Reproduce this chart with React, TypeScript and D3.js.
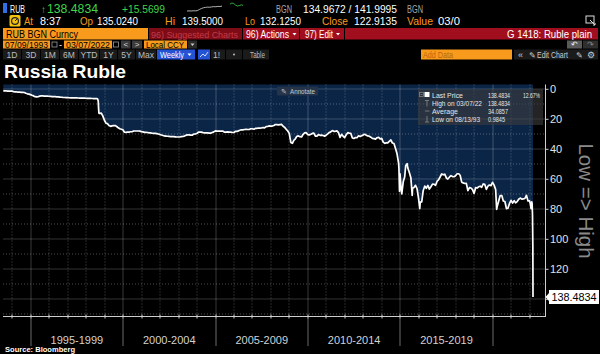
import React, { useEffect } from "react";
import * as d3 from "d3";

// ---------- DATA (USD/RUB, redenominated) ----------
const obsDates: string[] = [
  "1993-07-09","1993-07-30","1993-08-13","1993-08-31","1993-09","1993-10","1993-11","1993-12",
  "1994-01","1994-02","1994-03","1994-04","1994-05","1994-06","1994-07","1994-08","1994-09","1994-10","1994-11","1994-12",
  "1995-01","1995-02","1995-03","1995-04","1995-05","1995-06","1995-07","1995-08","1995-09","1995-10","1995-11","1995-12",
  "1996-01","1996-02","1996-03","1996-04","1996-05","1996-06","1996-07","1996-08","1996-09","1996-10","1996-11","1996-12",
  "1997-01","1997-02","1997-03","1997-04","1997-05","1997-06","1997-07","1997-08","1997-09","1997-10","1997-11","1997-12",
  "1998-01","1998-02","1998-03","1998-04","1998-05","1998-06","1998-07","1998-08-14","1998-08-21","1998-08-28","1998-09-04","1998-09-11","1998-09-18","1998-09-25","1998-10","1998-11","1998-12",
  "1999-01","1999-02","1999-03","1999-04","1999-05","1999-06","1999-07","1999-08","1999-09","1999-10","1999-11","1999-12",
  "2000-01","2000-02","2000-03","2000-04","2000-05","2000-06","2000-07","2000-08","2000-09","2000-10","2000-11","2000-12",
  "2001-01","2001-02","2001-03","2001-04","2001-05","2001-06","2001-07","2001-08","2001-09","2001-10","2001-11","2001-12",
  "2002-01","2002-02","2002-03","2002-04","2002-05","2002-06","2002-07","2002-08","2002-09","2002-10","2002-11","2002-12",
  "2003-01","2003-02","2003-03","2003-04","2003-05","2003-06","2003-07","2003-08","2003-09","2003-10","2003-11","2003-12",
  "2004-01","2004-02","2004-03","2004-04","2004-05","2004-06","2004-07","2004-08","2004-09","2004-10","2004-11","2004-12",
  "2005-01","2005-02","2005-03","2005-04","2005-05","2005-06","2005-07","2005-08","2005-09","2005-10","2005-11","2005-12",
  "2006-01","2006-02","2006-03","2006-04","2006-05","2006-06","2006-07","2006-08","2006-09","2006-10","2006-11","2006-12",
  "2007-01","2007-02","2007-03","2007-04","2007-05","2007-06","2007-07","2007-08","2007-09","2007-10","2007-11","2007-12",
  "2008-01","2008-02","2008-03","2008-04","2008-05","2008-06","2008-07","2008-08","2008-09","2008-10","2008-11","2008-12",
  "2009-01","2009-02","2009-03","2009-04","2009-05","2009-06","2009-07","2009-08","2009-09","2009-10","2009-11","2009-12",
  "2010-01","2010-02","2010-03","2010-04","2010-05","2010-06","2010-07","2010-08","2010-09","2010-10","2010-11","2010-12",
  "2011-01","2011-02","2011-03","2011-04","2011-05","2011-06","2011-07","2011-08","2011-09","2011-10","2011-11","2011-12",
  "2012-01","2012-02","2012-03","2012-04","2012-05","2012-06","2012-07","2012-08","2012-09","2012-10","2012-11","2012-12",
  "2013-01","2013-02","2013-03","2013-04","2013-05","2013-06","2013-07","2013-08","2013-09","2013-10","2013-11","2013-12",
  "2014-01","2014-02","2014-03","2014-04","2014-05","2014-06","2014-07","2014-08","2014-09","2014-10","2014-11","2014-12-05","2014-12-16","2014-12-26",
  "2015-01-15","2015-01-30","2015-02","2015-03","2015-04-17","2015-05-15","2015-05-29","2015-06","2015-07","2015-08-24","2015-08-31","2015-09","2015-10","2015-11","2015-12",
  "2016-01-21","2016-01-29","2016-02","2016-03","2016-04","2016-05","2016-06","2016-07","2016-08","2016-09","2016-10","2016-11","2016-12",
  "2017-01","2017-02","2017-03","2017-04","2017-05","2017-06","2017-07","2017-08","2017-09","2017-10","2017-11","2017-12",
  "2018-01","2018-02","2018-03","2018-04","2018-05","2018-06","2018-07","2018-08","2018-09","2018-10","2018-11","2018-12",
  "2019-01","2019-02","2019-03","2019-04","2019-05","2019-06","2019-07","2019-08","2019-09","2019-10","2019-11","2019-12",
  "2020-01","2020-02","2020-03-18","2020-03-31","2020-04","2020-05","2020-06","2020-07","2020-08","2020-09","2020-10","2020-11","2020-12",
  "2021-01","2021-02","2021-03","2021-04","2021-05","2021-06","2021-07","2021-08","2021-09","2021-10","2021-11","2021-12",
  "2022-01-14","2022-01-28","2022-02-11","2022-02-18","2022-02-25","2022-03-04","2022-03-07",
];

const rubPerUsd: number[] = [
  1.03,0.99,0.9845,0.99,1.17,1.18,1.20,1.25,
  1.54,1.66,1.75,1.82,1.88,1.99,2.05,2.15,2.60,3.00,3.23,3.55,
  4.00,4.41,4.90,5.10,4.95,4.54,4.41,4.42,4.51,4.51,4.58,4.64,
  4.73,4.82,4.87,4.93,5.01,5.11,5.19,5.30,5.40,5.47,5.51,5.56,
  5.63,5.67,5.72,5.76,5.78,5.78,5.80,5.82,5.85,5.88,5.93,5.96,
  6.03,6.08,6.11,6.13,6.16,6.20,6.24,6.29,7.0,7.86,12.8,16.0,15.9,16.1,15.9,17.9,20.65,
  22.6,22.9,24.2,24.7,24.4,24.2,24.2,24.8,25.7,26.3,26.6,27.0,
  28.6,28.7,28.5,28.5,28.3,28.3,27.8,27.8,27.8,27.8,27.9,28.2,
  28.4,28.7,28.7,28.8,29.0,29.1,29.3,29.4,29.4,29.6,29.8,30.1,
  30.5,30.8,31.1,31.2,31.3,31.4,31.5,31.6,31.6,31.7,31.8,31.8,
  31.8,31.5,31.4,31.2,30.7,30.3,30.4,30.6,30.6,29.9,29.8,29.5,
  28.5,28.5,28.5,28.9,29.0,29.0,29.1,29.2,29.2,28.8,28.4,27.7,
  27.9,27.8,27.9,27.8,27.9,28.6,28.6,28.4,28.5,28.6,28.8,28.8,
  28.1,28.1,27.7,27.3,27.0,27.0,26.8,26.7,26.8,26.8,26.3,26.3,
  26.6,26.1,26.0,25.8,25.9,25.8,25.5,25.7,24.9,24.8,24.4,24.5,
  24.5,24.1,23.5,23.6,23.7,23.5,23.4,24.6,25.4,26.6,27.8,29.4,
  35.4,36.0,34.0,33.0,31.3,31.1,31.6,31.8,30.0,29.0,28.9,30.2,
  30.4,29.9,29.4,29.2,31.2,31.2,30.2,30.7,30.6,30.8,31.3,30.5,
  29.7,28.8,28.4,27.5,28.0,28.0,27.7,28.9,32.1,30.0,31.3,32.2,
  30.3,28.9,29.3,29.4,32.5,32.8,32.2,32.3,31.0,31.5,31.0,30.4,
  30.0,30.6,31.1,31.3,31.9,32.7,32.9,33.2,32.3,32.0,33.1,32.7,
  35.2,36.0,35.7,35.7,34.7,33.8,35.8,36.1,39.4,43.0,49.3,53.0,68.0,56.3,
  65.5,69.7,61.5,58.5,51.0,49.6,52.5,55.5,58.9,70.7,66.0,65.5,64.0,66.3,72.9,
  79.5,75.2,75.0,67.6,64.5,66.0,64.1,66.5,65.0,63.2,63.3,64.0,61.3,
  60.2,58.3,56.4,57.0,56.6,59.1,59.8,58.6,57.6,58.2,58.3,57.6,
  56.3,56.3,57.3,61.9,62.4,62.8,62.7,67.5,65.6,65.8,66.9,69.4,
  65.6,65.8,65.0,64.6,65.3,63.1,63.4,66.7,64.6,63.8,64.2,62.0,
  63.9,66.9,80.0,78.0,74.5,70.8,70.8,74.5,74.8,79.5,79.3,76.1,74.0,
  75.9,74.2,75.7,74.9,73.3,72.5,73.2,73.0,72.8,70.7,74.4,74.3,
  76.5,79.5,75.0,76.5,83.6,105.0,138.4834,
];

const yTicks: number[] = [0, 20, 40, 60, 80, 100, 120, 140];
const yTickLabels: number[] = [0, 20, 40, 60, 80, 100, 120];
const yGridValues: number[] = [0, 10, 20, 30, 40, 50, 60, 70, 80, 90, 100, 110, 120, 130, 140, 150];
const periodLabels: string[] = ["1995-1999", "2000-2004", "2005-2009", "2010-2014", "2015-2019"];
const periodBounds: number[] = [1995, 2000, 2005, 2010, 2015, 2020];
const lastPriceLabel = "138.4834";
const legendLabels: string[] = ["Last Price", "High on 03/07/22", "Average", "Low on 08/13/93"];
const legendValues: string[] = ["138.4834", "138.4834", "34.0857", "0.9845"];
const legendPct = "12.67%";
const sparkIntraday: number[] = [3.0, 3.1, 3.0, 3.2, 3.1, 3.3, 4.2, 5.0, 5.6, 5.9, 6.1, 6.0, 6.3, 6.5, 6.4, 6.7, 6.6, 6.9];
const sparkGreen: number[] = [2.0, 3.0, 2.6, 1.2, 0.4, 0.8, 1.4, 1.0];

const FONT = "'Liberation Sans', Arial, Helvetica, sans-serif";
const ORANGE = "#f89a1c";
const RED = "#a10f1f";
const GREEN = "#3fd54b";
const NAVY = "#0b2547";

type TP = { x: number; y: number; t: string; s?: number; f?: string; w?: number; b?: boolean; a?: "start" | "middle" | "end" };
const T = ({ x, y, t, s = 11, f = "#fff", w, b, a = "start" }: TP) => (
  <text
    x={x}
    y={y}
    fontSize={s}
    fill={f}
    fontFamily={FONT}
    fontWeight={b ? "bold" : "normal"}
    textAnchor={a}
    {...(w ? { textLength: w, lengthAdjust: "spacingAndGlyphs" } : {})}
  >
    {t}
  </text>
);

const Tri = ({ cx, cy, c = "#fff" }: { cx: number; cy: number; c?: string }) => (
  <path d={`M${cx - 2} ${cy - 1} L${cx + 2} ${cy - 1} L${cx} ${cy + 1.5} Z`} fill={c} />
);

const parseD = d3.timeParse("%Y-%m-%d");
const toDate = (s: string) => parseD(s.length === 7 ? s + "-28" : s) as Date;

export default function App() {
  useEffect(() => {
    document.body.style.margin = "0";
    document.body.style.background = "#000";
  }, []);

  const series = obsDates.map((d, i) => ({ date: toDate(d), value: rubPerUsd[i] }));
  const plotL = 3, plotR = 545, plotT = 84.5, plotB = 316;

  const x = d3.scaleTime()
    .domain([series[0].date, series[series.length - 1].date])
    .range([3.3, 533]);
  const y = d3.scaleLinear().domain([0, 140]).range([89.3, 299.3]);

  const area = d3.area<{ date: Date; value: number }>()
    .x((d) => x(d.date))
    .y0(plotT)
    .y1((d) => y(d.value));
  const line = d3.line<{ date: Date; value: number }>()
    .x((d) => x(d.date))
    .y((d) => y(d.value));

  const years = d3.timeYear.range(new Date(1994, 0, 1), new Date(2022, 6, 1));
  const crisp = (v: number) => Math.round(v) + 0.5;

  const sx = d3.scaleLinear().domain([0, sparkIntraday.length - 1]).range([187, 222]);
  const sy = d3.scaleLinear().domain([3, 7]).range([11, 6]);
  const spark = d3.line<number>().x((_, i) => sx(i)).y((d) => sy(d));
  const gx = d3.scaleLinear().domain([0, sparkGreen.length - 1]).range([230, 243]);
  const gy = d3.scaleLinear().domain([0, 3]).range([6.5, 3]);
  const sparkG = d3.line<number>().x((_, i) => gx(i)).y((d) => gy(d));

  const lastY = y(rubPerUsd[rubPerUsd.length - 1]);

  const btns: [string, number, number][] = [
    ["1D", 3, 21], ["3D", 22, 40], ["1M", 41, 59], ["6M", 60, 78],
    ["YTD", 79, 99], ["1Y", 100, 117], ["5Y", 118, 135], ["Max", 136, 156],
  ];

  return (
    <div style={{ position: "fixed", left: 0, top: 0, width: 600, height: 354, background: "#000" }}>
      <svg width={600} height={354} style={{ display: "block" }}>
        <rect x={0} y={0} width={600} height={354} fill="#000" />

        {/* ---- Row 1 ---- */}
        <rect x={3} y={3} width={4} height={10} fill="#2f6fe8" />
        <T x={10} y={12.5} t="RUB" w={15} />
        <T x={41} y={12.5} t="↑" f={GREEN} s={10} />
        <T x={47} y={12.5} t="138.4834" f={GREEN} w={51} s={12} />
        <T x={122} y={12.5} t="+15.5699" f={GREEN} w={43} s={11.5} />
        <path d={spark(sparkIntraday) || ""} fill="none" stroke="#ddd" strokeWidth={0.8} />
        <path d={sparkG(sparkGreen) || ""} fill="none" stroke={GREEN} strokeWidth={0.8} />
        <T x={276} y={12.5} t="BGN" f="#a8a8a8" w={16} />
        <T x={303} y={12.5} t="134.9672 / 141.9995" w={94} s={11.5} />
        <T x={407} y={12.5} t="BGN" f="#a8a8a8" w={16} />

        {/* ---- Row 2 ---- */}
        <rect x={9.5} y={15} width={11} height={11.5} rx={1.5} fill="#f4c20d" />
        <circle cx={15} cy={21} r={3.4} fill="none" stroke="#222" strokeWidth={1.2} />
        <line x1={15} y1={21} x2={17} y2={19} stroke="#222" strokeWidth={1} />
        <T x={24} y={24.5} t="At" f={ORANGE} w={9} />
        <T x={40} y={24.5} t="8:37" w={21} />
        <T x={80} y={24.5} t="Op" f={ORANGE} w={13} />
        <T x={97} y={24.5} t="135.0240" w={41} />
        <T x={165} y={24.5} t="Hi" f={ORANGE} w={10} />
        <T x={182} y={24.5} t="139.5000" w={41} />
        <T x={245} y={24.5} t="Lo" f={ORANGE} w={10} />
        <T x={260} y={24.5} t="132.1250" w={41} />
        <T x={322} y={24.5} t="Close" f={ORANGE} w={26} />
        <T x={354} y={24.5} t="122.9135" w={43} />
        <T x={407} y={24.5} t="Value" f={ORANGE} w={26} />
        <T x={438} y={24.5} t="03/0" w={22} />
        <rect x={586} y={16} width={8} height={7} fill="none" stroke="#ddd" strokeWidth={1} />
        <path d="M590 20 l5 5 M593 25 h2 v-2" stroke="#ddd" strokeWidth={1} fill="none" />

        {/* ---- Row 3 ---- */}
        <rect x={3} y={28} width={145} height={11.5} fill={ORANGE} />
        <T x={6} y={37.5} t="RUB BGN Curncy" f="#000" w={72} s={10} />
        <rect x={149} y={28} width={93} height={11.5} fill="#7e0c17" />
        <T x={151} y={37.5} t="96) Suggested Charts" f="#c23a46" w={87} s={9.5} />
        <rect x={243} y={28} width={56} height={11.5} fill={RED} />
        <T x={246} y={37.5} t="96) Actions" w={43} s={10} />
        <Tri cx={294.5} cy={34} />
        <rect x={300} y={28} width={44} height={11.5} fill={RED} />
        <T x={305} y={37.5} t="97) Edit" w={28} s={10} />
        <Tri cx={338} cy={34} />
        <rect x={345} y={28} width={253} height={11.5} fill={RED} />
        <T x={592} y={37.5} t="G 1418: Ruble plain" w={85} s={10} a="end" />

        {/* ---- Row 4 ---- */}
        <rect x={3} y={40.5} width={47} height={8} fill={ORANGE} />
        <T x={5} y={47.5} t="07/09/1993" f="#000" w={43} s={9} />
        <rect x={52} y={42} width={5} height={5} fill="none" stroke="#999" strokeWidth={0.8} />
        <T x={59} y={47.5} t="-" s={9} />
        <rect x={64} y={40.5} width={48} height={8} fill={ORANGE} />
        <T x={66} y={47.5} t="03/07/2022" f="#000" w={44} s={9} />
        <rect x={113.5} y={42} width={5} height={5} fill="none" stroke="#999" strokeWidth={0.8} />
        <rect x={121} y={40.5} width={9.5} height={8} fill="#3c3c3c" />
        <T x={125.8} y={47.3} t="<" s={8} a="middle" f="#ddd" />
        <rect x={132} y={40.5} width={10} height={8} fill="#3c3c3c" />
        <T x={137} y={47.3} t=">" s={8} a="middle" f="#ddd" />
        <rect x={144} y={40.5} width={43} height={8} fill={ORANGE} />
        <T x={146} y={47.5} t="Local CCY" f="#000" w={38} s={9} />
        <rect x={188} y={40.5} width={9} height={8} fill="#2a2a2a" />
        <Tri cx={192.5} cy={44.5} c="#ccc" />
        <rect x={567} y={40.5} width={15} height={8} fill="#5a5a5a" />
        <T x={574.5} y={47.3} t="↶" s={8} a="middle" f="#eee" />
        <rect x={583} y={40.5} width={15} height={8} fill="#2e2e2e" />
        <T x={590.5} y={47.3} t="↷" s={8} a="middle" f="#888" />

        {/* ---- Row 5 ---- */}
        {btns.map(([lab, x0, x1]) => (
          <g key={lab}>
            <rect x={x0} y={49.5} width={x1 - x0} height={10} fill="#1b1b1b" />
            <T x={(x0 + x1) / 2} y={57.5} t={lab} s={8.5} a="middle" f="#bdbdbd" />
          </g>
        ))}
        <rect x={157} y={49.5} width={38} height={10} fill="#2553d6" />
        <T x={160} y={57.5} t="Weekly" w={24} s={8.5} />
        <Tri cx={189.5} cy={54.5} />
        <rect x={198} y={49.5} width={12} height={10} fill="#2553d6" />
        <path d="M200 57 l3 -3 l2 2 l3 -4" stroke="#fff" strokeWidth={0.8} fill="none" />
        <rect x={211} y={49.5} width={14} height={10} fill="#1b1b1b" />
        <T x={213} y={57.5} t="1!" s={8.5} f="#bdbdbd" />
        <rect x={226} y={49.5} width={16} height={10} fill="#1b1b1b" />
        <circle cx={234} cy={54.5} r={1} fill="#bdbdbd" />
        <rect x={243} y={49.5} width={26} height={10} fill="#1b1b1b" />
        <T x={250} y={57.5} t="Table" s={8.5} f="#bdbdbd" w={15} />
        <rect x={421} y={49.5} width={91} height={10} fill={ORANGE} />
        <T x={423} y={57.5} t="Add Data" s={8.5} f="#b8660e" w={30} />
        <rect x={514} y={49.5} width={84} height={10} fill="#1b1b1b" />
        <T x={518} y={57.5} t="«" s={9} f="#ccc" />
        <T x={528.5} y={57.5} t="✎" s={7.5} f="#ccc" />
        <T x={537} y={57.5} t="Edit Chart" s={8.5} f="#ccc" w={31} />
        <T x={576} y={57.5} t="✎" s={7.5} f="#ccc" />
        <T x={587} y={57.8} t="⚙" s={8.5} f="#ccc" />

        {/* ---- Title ---- */}
        <T x={4} y={78} t="Russia Ruble" s={19} b w={122} />

        {/* ---- Plot ---- */}
        <path d={area(series) || ""} fill={NAVY} />

        {yGridValues.map((v) => {
          const yy = y(v);
          if (yy > plotB - 1) return null;
          const major = v % 20 === 0;
          return (
            <line
              key={"h" + v}
              x1={plotL}
              x2={plotR}
              y1={crisp(yy) - 0.5}
              y2={crisp(yy) - 0.5}
              stroke={major ? "rgba(255,255,255,0.2)" : "rgba(255,255,255,0.3)"}
              strokeDasharray={major ? undefined : "1,2"}
              strokeWidth={1}
            />
          );
        })}
        {years.map((d) => {
          const xx = crisp(x(d)) - 0.5;
          const major = d.getFullYear() % 5 === 0;
          return (
            <line
              key={"v" + d.getFullYear()}
              x1={xx}
              x2={xx}
              y1={plotT}
              y2={plotB}
              stroke={major ? "rgba(255,255,255,0.22)" : "rgba(255,255,255,0.3)"}
              strokeDasharray={major ? undefined : "1,2"}
              strokeWidth={1}
            />
          );
        })}

        <path d={line(series) || ""} fill="none" stroke="#fff" strokeWidth={1.7} strokeLinejoin="round" />

        {/* right axis */}
        <line x1={545.5} x2={545.5} y1={plotT} y2={plotB} stroke="#cfcfcf" strokeWidth={1} />
        {yTicks.map((v) => (
          <line key={"t" + v} x1={545.5} x2={548.5} y1={y(v)} y2={y(v)} stroke="#cfcfcf" strokeWidth={1} />
        ))}
        {yTickLabels.map((v) => (
          <text key={"l" + v} x={550} y={y(v) + 3.8} fontSize={11} fill="#e2e2e2" fontFamily={FONT}>
            {v}
          </text>
        ))}
        <text
          transform="translate(579,201) rotate(90)"
          fontSize={20.5}
          fill="#8a8a8a"
          fontFamily={FONT}
          textAnchor="middle"
        >
          Low =&gt; High
        </text>

        {/* bottom axis */}
        <line x1={plotL} x2={plotR + 1} y1={316.5} y2={316.5} stroke="#cfcfcf" strokeWidth={1} />
        {years.map((d) => (
          <line
            key={"bt" + d.getFullYear()}
            x1={crisp(x(d)) - 0.5}
            x2={crisp(x(d)) - 0.5}
            y1={314.5}
            y2={318.5}
            stroke="#cfcfcf"
            strokeWidth={1}
          />
        ))}
        {periodBounds.map((yr) => {
          const xx = crisp(x(new Date(yr, 0, 1))) - 0.5;
          return <line key={"pb" + yr} x1={xx} x2={xx} y1={317} y2={346} stroke="#6a6a6a" strokeWidth={1} />;
        })}
        {periodLabels.map((lab, i) => {
          const x0 = x(new Date(periodBounds[i], 0, 1));
          const x1 = x(new Date(periodBounds[i + 1], 0, 1));
          return (
            <text key={lab} x={(x0 + x1) / 2} y={344} fontSize={11} fill="#d2d2d2" fontFamily={FONT} textAnchor="middle">
              {lab}
            </text>
          );
        })}
        <T x={5} y={352} t="Source: Bloomberg" s={7.5} b w={70} />

        {/* last price tag */}
        <path
          d={`M545.5 ${lastY} L549 ${lastY - 4} L549 ${lastY - 7} L599 ${lastY - 7} L599 ${lastY + 7} L549 ${lastY + 7} L549 ${lastY + 4} Z`}
          fill="#fff"
        />
        <T x={551.5} y={lastY + 4.2} t={lastPriceLabel} f="#000" s={11.5} w={45} />

        {/* annotate button */}
        <rect x={277} y={86.5} width={41} height={9} rx={1} fill="#26344a" />
        <T x={281} y={93.8} t="✎" s={6.5} f="#c8c8c8" />
        <T x={290} y={93.8} t="Annotate" s={7} f="#c8c8c8" w={25} />

        {/* legend */}
        <rect x={418} y={89} width={125} height={36} fill="#3c3c3c" opacity={0.6} />
        <rect x={419.5} y={92.5} width={4} height={4} fill="none" stroke="#8a8a8a" strokeWidth={0.7} />
        <line x1={420.5} x2={422.5} y1={94.5} y2={94.5} stroke="#8a8a8a" strokeWidth={0.7} />
        <rect x={424.5} y={92} width={5} height={5} fill="#fff" />
        <path d="M425 100.5 h4 M427 100.5 v6" stroke="#8a8a8a" strokeWidth={0.8} />
        <line x1={425} x2={429.5} y1={111} y2={111} stroke="#8a8a8a" strokeWidth={0.8} />
        <path d="M427 116 v6 M425 122 h4" stroke="#8a8a8a" strokeWidth={0.8} />
        {legendLabels.map((lab, i) => (
          <T key={lab} x={432} y={97.5 + i * 8} t={lab} s={7} f="#e6e6e6" w={[31, 50, 26, 48][i]} />
        ))}
        {legendValues.map((v, i) => (
          <T key={"lv" + i} x={488} y={97.5 + i * 8} t={v} s={7} f="#e6e6e6" w={[22, 22, 20, 17][i]} />
        ))}
        <T x={523} y={97.5} t={legendPct} s={7} f="#e6e6e6" w={17} />
      </svg>
    </div>
  );
}
